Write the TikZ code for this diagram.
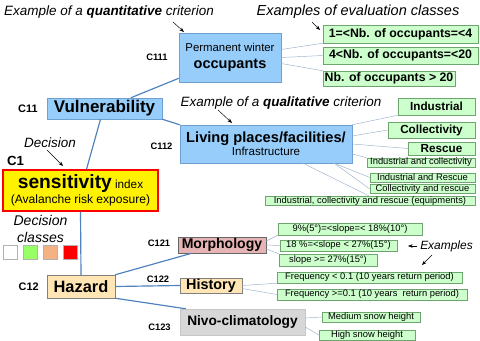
\documentclass[tikz,border=0pt]{standalone}
\usepackage{fontspec}
\setmainfont{Liberation Sans}
\usetikzlibrary{positioning,calc,shadows,arrows.meta}

\definecolor{critblue}{RGB}{150,205,250}
\definecolor{critedge}{RGB}{110,160,210}
\definecolor{clsgreen}{RGB}{204,255,204}
\definecolor{clsedge}{RGB}{110,165,110}
\definecolor{linkblue}{RGB}{79,129,189}
\definecolor{leafblue}{RGB}{155,178,205}
\definecolor{hazfill}{RGB}{255,230,180}
\definecolor{morfill}{RGB}{230,180,180}
\definecolor{nivfill}{RGB}{215,215,215}
\definecolor{decgreen}{RGB}{153,255,102}
\definecolor{decorange}{RGB}{244,177,131}

\begin{document}
\begin{tikzpicture}[x=0.03cm, y=-0.03cm,
    crit/.style={draw=critedge, fill=critblue, align=center, inner sep=0pt},
    haz/.style={draw=gray, fill=hazfill, inner sep=0pt},
    cls/.style={draw=clsedge, fill=clsgreen, inner sep=0pt, drop shadow={shadow xshift=0.7pt, shadow yshift=-0.7pt, fill=gray!70}},
    clsbig/.style={cls, font=\bfseries\fontsize{10.5}{12}\selectfont},
    clsmid/.style={cls, font=\bfseries\fontsize{10}{12}\selectfont},
    clssmall/.style={cls, font=\fontsize{8}{9}\selectfont},
    clabel/.style={font=\bfseries\fontsize{8}{9}\selectfont},
    note/.style={font=\itshape\fontsize{11.5}{14}\selectfont, align=center},
    dsq/.style={draw=gray!60, minimum size=0.42cm, inner sep=0pt},
    link/.style={draw=linkblue, line width=1pt},
    leaf/.style={draw=leafblue, line width=0.4pt},
    pointer/.style={-{Stealth[length=4pt]}, thin, black}]

    \useasboundingbox (0,0) rectangle (480,341);

    \node (sens) [draw=red, line width=1.2pt, fill=yellow, align=center, inner sep=0pt, minimum width=4.65cm, minimum height=1.23cm] at (80.5,190.5) {{\bfseries\fontsize{16.4}{18}\selectfont sensitivity} {\fontsize{10}{12}\selectfont index}\\[1pt] \fontsize{10.3}{12}\selectfont(Avalanche risk exposure)};
    \node (vul) [crit, minimum width=3.45cm, minimum height=0.63cm, font=\bfseries\fontsize{14.5}{16}\selectfont] at (104.5,108.5) {Vulnerability};
    \node (perm) [crit, minimum width=3.06cm, minimum height=1.47cm] at (230,57.5) {\fontsize{9.7}{11}\selectfont Permanent winter\\[2pt] \bfseries\fontsize{12.4}{14}\selectfont occupants};
    \node (liv) [crit, minimum width=5.16cm, minimum height=1.14cm] at (266,144) {\bfseries\fontsize{12.5}{14}\selectfont Living places/facilities/\\[-1pt] \fontsize{9.9}{12}\selectfont Infrastructure};
    \node (hz) [haz, minimum width=2.04cm, minimum height=0.69cm, font=\bfseries\fontsize{14}{16}\selectfont] at (81,286.5) {Hazard};
    \node (mor) [draw=gray!80!black, fill=morfill, inner sep=0pt, minimum width=2.64cm, minimum height=0.48cm, font=\bfseries\fontsize{12}{14}\selectfont] at (222,245) {Morphology};
    \node (his) [haz, minimum width=1.86cm, minimum height=0.45cm, font=\bfseries\fontsize{12.3}{14}\selectfont] at (211,285.5) {History};
    \node (niv) [draw=gray!45, fill=nivfill, inner sep=0pt, minimum width=3.75cm, minimum height=0.78cm, font=\bfseries\fontsize{11.7}{14}\selectfont] at (242.5,322) {Nivo-climatology};

    \node (c111) [clabel, left=0.21cm of perm] {C111};
    \node (c11) [clabel, left=0.15cm of vul, font=\bfseries\fontsize{9.3}{11}\selectfont] {C11};
    \node (c112) [clabel, inner sep=0pt] at (161.5,146) {C112};
    \node (c1) [clabel, inner sep=0pt, font=\bfseries\fontsize{11.3}{13}\selectfont] at (15.5,161) {C1};
    \node (c12) [clabel, left=0.12cm of hz, font=\bfseries\fontsize{9.3}{11}\selectfont] {C12};
    \node (c121) [clabel, inner sep=0pt] at (159,243) {C121};
    \node (c122) [clabel, inner sep=0pt] at (158,279) {C122};
    \node (c123) [clabel, inner sep=0pt] at (159.5,327) {C123};

    \node (q1) [clsbig, minimum width=4.65cm, minimum height=0.54cm] at (400.5,34) {1=<Nb. of occupants=<4};
    \node (q2) [clsbig, minimum width=4.65cm, minimum height=0.51cm] at (400.5,55.5) {4<Nb. of occupants=<20};
    \node (q3) [clsbig, minimum width=3.96cm, minimum height=0.45cm] at (389,78.5) {Nb. of occupants > 20};

    \node (l1) [clsmid, minimum width=2.31cm, minimum height=0.51cm] at (436.5,106.5) {Industrial};
    \node (l2) [clsmid, minimum width=2.61cm, minimum height=0.48cm] at (431.5,130) {Collectivity};
    \node (l3) [clsmid, minimum width=2.01cm, minimum height=0.39cm] at (441.5,148.5) {Rescue};
    \node (l4) [clssmall, minimum width=3.24cm, minimum height=0.27cm] at (421,162.5) {Industrial and collectivity};
    \node (l5) [clssmall, minimum width=3.15cm, minimum height=0.27cm] at (422.5,177.5) {Industrial and Rescue};
    \node (l6) [clssmall, minimum width=3.15cm, minimum height=0.24cm] at (422.5,189) {Collectivity and rescue};
    \node (l7) [clssmall, minimum width=6.3cm, minimum height=0.24cm] at (370,201) {Industrial, collectivity and rescue (equipments)};

    \node (m1) [clssmall, minimum width=4.32cm, minimum height=0.36cm] at (350,229) {9\%(5°)=<slope=< 18\%(10°)};
    \node (m2) [clssmall, minimum width=3.51cm, minimum height=0.33cm] at (338.5,245.5) {18 \%=<slope < 27\%(15°)};
    \node (m3) [clssmall, minimum width=2.94cm, minimum height=0.36cm] at (328,260) {slope >= 27\%(15°)};
    \node (h1) [clssmall, minimum width=5.55cm, minimum height=0.33cm] at (369.5,277.5) {Frequency < 0.1 (10 years return period)};
    \node (h2) [clssmall, minimum width=5.7cm, minimum height=0.33cm] at (372,294.5) {Frequency >=0.1 (10 years\ \ return period)};
    \node (n1) [clssmall, minimum width=2.94cm, minimum height=0.3cm] at (371,317) {Medium snow height};
    \node (n2) [clssmall, minimum width=2.88cm, minimum height=0.3cm] at (367,335) {High snow height};

    \node (quanti) [note] at (109,12) {Example of a \textbf{quantitative} criterion};
    \node (evalc) [note, font=\itshape\fontsize{12.4}{14}\selectfont] at (358,12) {Examples of evaluation classes};
    \node (quali) [note] at (281,103) {Example of a \textbf{qualitative} criterion};
    \node (decis) [note] at (50,143) {Decision};
    \node (decls) [note, font=\itshape\fontsize{12}{14.5}\selectfont] at (40.5,228.5) {Decision\\classes};
    \node (exmp) [note, font=\itshape\fontsize{10.2}{12}\selectfont] at (446.5,246) {Examples};

    \node (d1) [dsq, fill=white] at (10,252.5) {};
    \node (d2) [dsq, fill=decgreen] at (30,252.5) {};
    \node (d3) [dsq, fill=decorange] at (50,252.5) {};
    \node (d4) [dsq, fill=red] at (70.5,252.5) {};

    \coordinate (pa) at (173,22);  \coordinate (pb) at (184,32);
    \coordinate (pc) at (312,22);  \coordinate (pd) at (320,30);
    \coordinate (pe) at (218,110); \coordinate (pf) at (232,123);
    \coordinate (pg) at (47,150);  \coordinate (ph) at (63,166);
    \coordinate (pi) at (417,246); \coordinate (pj) at (408,246);
    \coordinate (pk) at (432,255); \coordinate (pl) at (422,265);
    \draw [pointer] (pa) -- (pb);
    \draw [pointer] (pc) -- (pd);
    \draw [pointer] (pe) -- (pf);
    \draw [pointer] (pg) -- (ph);
    \draw [pointer] (pi) -- (pj);
    \draw [pointer] (pk) -- (pl);

    \draw [link] (vul) -- (perm);
    \draw [link] (vul.south east) -- (liv.north west);
    \draw [link] ($(vul.south)+(-4,0)$) -- ($(sens.north)+(6,0)$);
    \draw [link] (sens.south) -- (hz.north);
    \draw [link] (hz.north east) -- ($(mor.south west)+(14,0)$);
    \draw [link] (hz.east) -- (his.west);
    \draw [link] (hz.south east) -- ($(niv.north west)+(6,0)$);

    \draw [leaf] ($(perm.east)+(0,-8)$) -- (q1.south west);
    \draw [leaf] (perm.east) -- (q2.west);
    \draw [leaf] ($(perm.east)+(0,6)$) -- (q3.north west);
    \draw [leaf] (liv.north east) -- (l1.south west);
    \draw [leaf] ($(liv.east)+(0,-8)$) -- (l2.west);
    \draw [leaf] (liv.east) -- (l3.west);
    \draw [leaf] ($(liv.east)+(0,10)$) -- (l4.north west);
    \draw [leaf] ($(liv.south east)+(-18,0)$) -- (l5.west);
    \draw [leaf] ($(liv.south east)+(-18,0)$) -- (l6.west);
    \draw [leaf] ($(liv.south)+(37,0)$) -- (l7.north);
    \draw [leaf] ($(mor.east)+(0,-4)$) -- (m1.south west);
    \draw [leaf] (mor.east) -- (m2.west);
    \draw [leaf] ($(mor.east)+(0,4)$) -- (m3.north west);
    \draw [leaf] (his.east) -- (h1.south west);
    \draw [leaf] ($(his.east)+(0,3)$) -- (h2.west);
    \draw [leaf] ($(niv.east)+(0,-4)$) -- (n1.west);
    \draw [leaf] ($(niv.east)+(0,5)$) -- (n2.west);
\end{tikzpicture}
\end{document}
